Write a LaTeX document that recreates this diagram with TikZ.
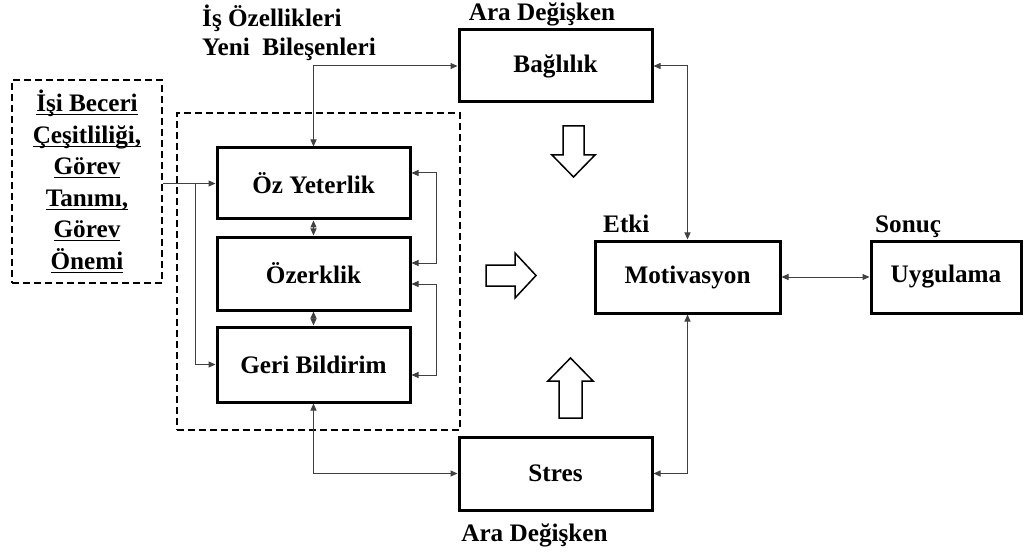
\documentclass[tikz,border=0pt]{standalone}
\usepackage{fontspec}
\setmainfont{Liberation Serif}
\usetikzlibrary{arrows.meta}
% thin underline at a fixed depth below the baseline
\newlength\ulwidth
\newcommand\ulword[1]{\settowidth{\ulwidth}{#1}\rlap{\rule[-3.5pt]{\ulwidth}{1pt}}#1}
\begin{document}
\begin{tikzpicture}[x=1pt,y=-1pt,
  font=\fontsize{25.2}{31.6}\selectfont\bfseries,
  block/.style={draw,line width=3pt,inner sep=0pt,minimum width=193pt,minimum height=72pt},
  group/.style={draw,line width=1.5pt,dash pattern=on 7pt off 4pt},
  link/.style={draw=black!75,line width=1pt,{Triangle[length=7pt,width=6pt]}-{Triangle[length=7pt,width=6pt]}},
  linkto/.style={draw=black!75,line width=1pt,-{Triangle[length=7pt,width=6pt]}},
  fat/.style={draw,line width=1.5pt,fill=white,line join=miter},
  tag/.style={anchor=base west,inner sep=0pt}]
\useasboundingbox (0,0) rectangle (1024,553);

% grouping frames
\node[group,minimum width=150pt,minimum height=203pt,inner sep=0pt,align=center]
  (src) at (87,181.5)
  {\ulword{İşi Beceri}\\\ulword{Çeşitliliği,}\\\ulword{Görev}\\\ulword{Tanımı,}\\\ulword{Görev}\\\ulword{Önemi}};
\node[group,minimum width=283pt,minimum height=317pt,inner sep=0pt] (frame) at (318.5,271.5) {};

% job characteristic boxes
\node[block,minimum height=71pt] (oz)   at (313.5,183.5) {Öz Yeterlik};
\node[block,minimum height=73pt] (ozk)  at (313.5,273.5) {Özerklik};
\node[block,minimum height=75pt] (geri) at (313.5,364.5) {Geri Bildirim};

% mediators, effect, outcome
\node[block] (bag) at (555.5,66) {Bağlılık};
\node[block,minimum height=73pt] (stres) at (555.5,473.5) {Stres};
\node[block,minimum width=185pt] (mot) at (687.5,277) {Motivasyon};
\node[block,minimum width=150pt] (uyg) at (946,277) {Uygulama};

% labels
\node[tag] (lblis)  at (202,27) {İş Özellikleri};
\node[tag] (lblyeni) at (202,56) {Yeni\ \ Bileşenleri};
\node (lblara1) at (542,14) {Ara Değişken};
\node (lblara2) at (534.5,535) {Ara Değişken};
\node[tag] (lbletki) at (603,233) {Etki};
\node[tag] (lblsonuc) at (875,233) {Sonuç};

% connectors
\coordinate (split) at (195,183.5);
\draw[linkto] (oz.west -| src.east) -- (oz.west);
\draw[linkto] (split) |- (geri.west);
\draw[link] (oz.south) -- (ozk.north);
\draw[link] (ozk.south) -- (geri.north);
\draw[link] ([yshift=10.5pt]oz.east) -- ++(25,0) |- ([yshift=10.5pt]ozk.east);
\draw[link] ([yshift=-10.5pt]ozk.east) -- ++(25,0) |- ([yshift=-10.5pt]geri.east);
\draw[link] (bag.west) -| (oz.north);
\draw[link] (geri.south) |- (stres.west);
\draw[link] (bag.east) -| (mot.north);
\draw[link] (stres.east) -| (mot.south);
\draw[link] (mot.east) -- (uyg.west);

% hollow block arrows
\draw[fat] (563,126) -- (584,126) -- (584,155) -- (595,155) -- (573.5,177) -- (552,155) -- (563,155) -- cycle;
\draw[fat] (559,418) -- (582,418) -- (582,381) -- (593,381) -- (570.5,358) -- (548,381) -- (559,381) -- cycle;
\draw[fat] (486,265) -- (515,265) -- (515,253) -- (536,275.5) -- (515,298) -- (515,286) -- (486,286) -- cycle;
\end{tikzpicture}
\end{document}
